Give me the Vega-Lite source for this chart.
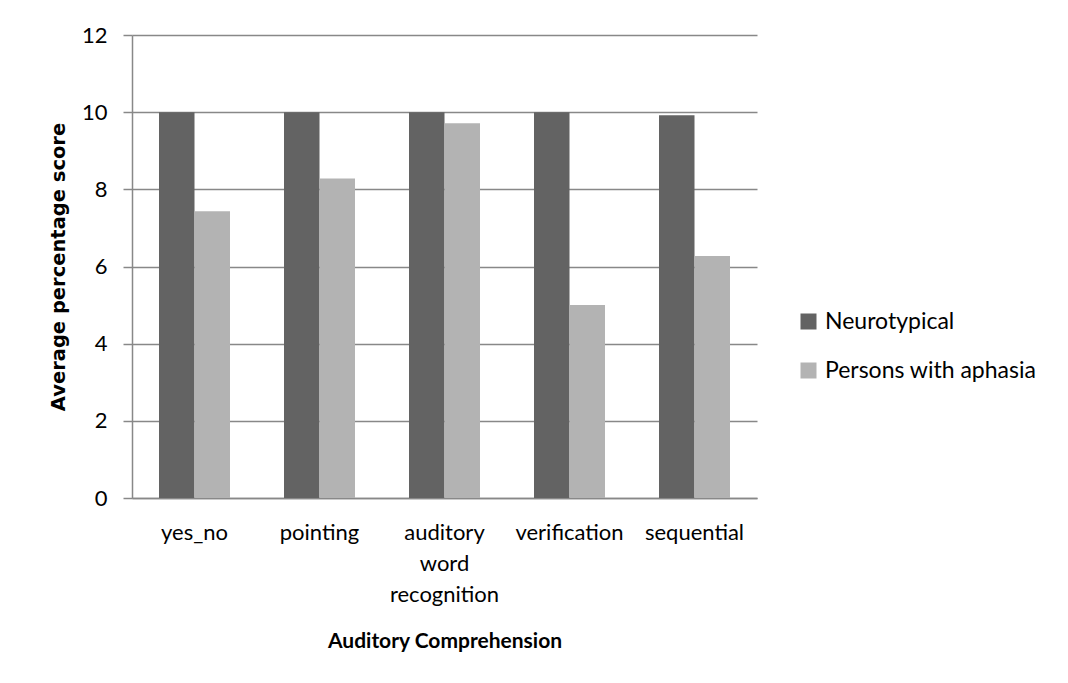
{
  "$schema": "https://vega.github.io/schema/vega-lite/v6.json",
  "width": 625,
  "height": 463,
  "autosize": {"type": "none"},
  "padding": {"left": 132, "top": 35, "right": 311, "bottom": 185},
  "background": "white",
  "data": {
    "values": [
      {"task": "yes_no", "group": "Neurotypical", "score": 10},
      {"task": "yes_no", "group": "Persons with aphasia", "score": 7.43},
      {"task": "pointing", "group": "Neurotypical", "score": 10},
      {"task": "pointing", "group": "Persons with aphasia", "score": 8.28},
      {"task": "auditory word recognition", "group": "Neurotypical", "score": 10},
      {"task": "auditory word recognition", "group": "Persons with aphasia", "score": 9.71},
      {"task": "verification", "group": "Neurotypical", "score": 10},
      {"task": "verification", "group": "Persons with aphasia", "score": 5},
      {"task": "sequential", "group": "Neurotypical", "score": 9.92},
      {"task": "sequential", "group": "Persons with aphasia", "score": 6.27}
    ]
  },
  "mark": {"type": "bar"},
  "encoding": {
    "x": {
      "field": "task",
      "type": "nominal",
      "sort": null,
      "scale": {"paddingInner": 0.432, "paddingOuter": 0.216},
      "axis": {
        "title": "Auditory Comprehension",
        "titleFontSize": 21,
        "labelAngle": 0,
        "labelExpr": "split(datum.label, ' ')",
        "labelLineHeight": 31,
        "labelPadding": 24,
        "ticks": false,
        "domainColor": "#888888",
        "domainWidth": 1.5,
        "titlePadding": 25
      }
    },
    "xOffset": {
      "field": "group",
      "type": "nominal",
      "sort": ["Neurotypical", "Persons with aphasia"],
      "scale": {"paddingInner": 0, "paddingOuter": 0}
    },
    "y": {
      "field": "score",
      "type": "quantitative",
      "scale": {"domain": [0, 12], "nice": false},
      "axis": {
        "title": "Average percentage score",
        "titleFont": "DejaVu Sans",
        "titleFontSize": 19.5,
        "values": [0, 2, 4, 6, 8, 10, 12],
        "tickSize": 9,
        "tickColor": "#888888",
        "tickWidth": 1.5,
        "labelPadding": 16,
        "domainColor": "#888888",
        "domainWidth": 1.5,
        "gridColor": "#888888",
        "gridWidth": 1.5,
        "titlePadding": 13
      }
    },
    "color": {
      "field": "group",
      "type": "nominal",
      "sort": ["Neurotypical", "Persons with aphasia"],
      "scale": {"range": ["#636363", "#b3b3b3"]},
      "legend": {
        "title": null,
        "orient": "none",
        "legendX": 665,
        "legendY": 275,
        "symbolType": "square",
        "symbolSize": 256,
        "symbolStrokeWidth": 0,
        "labelFontSize": 23,
        "labelFont": "Lato",
        "labelColor": "#000000",
        "labelLimit": 0,
        "labelOffset": 5,
        "rowPadding": 25
      }
    }
  },
  "config": {
    "view": {"stroke": null},
    "axis": {
      "labelFont": "Lato",
      "labelFontSize": 22,
      "labelColor": "#000000",
      "titleFont": "Lato",
      "titleFontSize": 20,
      "titleFontWeight": "bold",
      "titleColor": "#000000"
    },
    "axisX": {"grid": false},
    "legend": {"symbolOpacity": 1}
  }
}
